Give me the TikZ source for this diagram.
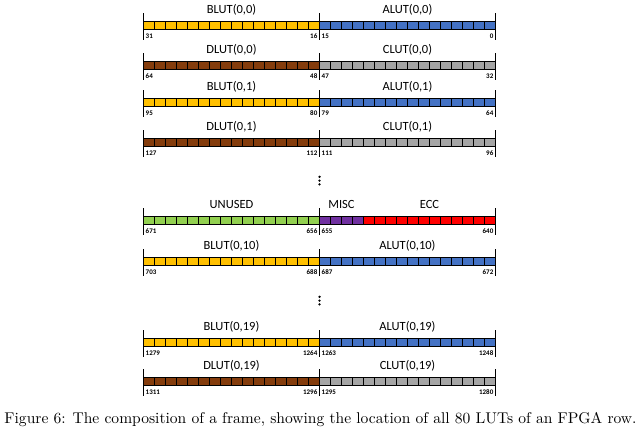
\documentclass[tikz,border=0pt]{standalone}
\usepackage{fontspec}
\setsansfont{Carlito}
\usepackage{graphicx}
\definecolor{cyel}{HTML}{FFC000}
\definecolor{cblu}{HTML}{4472C4}
\definecolor{cbrn}{HTML}{843C0C}
\definecolor{cgry}{HTML}{A5A5A5}
\definecolor{cgrn}{HTML}{92D050}
\definecolor{cpur}{HTML}{7030A0}
\definecolor{cred}{HTML}{FF0000}
\tikzset{
  cell/.style={draw=black,line width=0.7pt},
  tickline/.style={draw=black,line width=0.8pt},
  lab/.style={font=\sffamily\fontsize{12.5}{12.5}\selectfont,anchor=base,inner sep=0pt},
  num/.style={font=\sffamily\bfseries\fontsize{7}{7}\selectfont,inner sep=0pt},
  dot/.style={fill=black,circle,inner sep=0pt,minimum size=2.6pt},
}
\newcommand\lutcells[4]{% y, xstart, count, colour
  \foreach \i in {1,...,#3} \draw[cell,fill=#4] ({#2+(\i-1)*11},#1) rectangle ++(11,8.5);}
\newcommand\lutticks[1]{%
  \foreach \xx in {143.5,319.5,495.5} \draw[tickline] (\xx,#1-8) -- (\xx,#1+18.5);}
\newcommand\lutnums[5]{% y, n1..n4
  \node[num,anchor=base west] (na#1) at (145.5,#1+17.5) {#2};
  \node[num,anchor=base east] (nb#1) at (317.5,#1+17.5) {#3};
  \node[num,anchor=base west] (nc#1) at (321.5,#1+17.5) {#4};
  \node[num,anchor=base east] (nd#1) at (493.5,#1+17.5) {#5};}
\newcommand\lutrow[9]{% y, lcol, rcol, llab, rlab, n1..n4
  \lutcells{#1}{143.5}{16}{#2}
  \lutcells{#1}{319.5}{16}{#3}
  \lutticks{#1}
  \node[lab] (la#1) at (231.5,#1-8) {#4};
  \node[lab] (lb#1) at (407.5,#1-8) {#5};
  \lutnums{#1}{#6}{#7}{#8}{#9}}
\begin{document}
\begin{tikzpicture}[x=1pt,y=-1pt]
\fill[white] (0,0) rectangle (641,439);
\useasboundingbox (0,0) rectangle (641,439);
\lutrow{21}{cyel}{cblu}{BLUT(0,0)}{ALUT(0,0)}{31}{16}{15}{0}
\lutrow{61}{cbrn}{cgry}{DLUT(0,0)}{CLUT(0,0)}{64}{48}{47}{32}
\lutrow{98}{cyel}{cblu}{BLUT(0,1)}{ALUT(0,1)}{95}{80}{79}{64}
\lutrow{138}{cbrn}{cgry}{DLUT(0,1)}{CLUT(0,1)}{127}{112}{111}{96}
\node[dot] (d1a) at (319.5,176.8) {};
\node[dot] (d1b) at (319.5,180.6) {};
\node[dot] (d1c) at (319.5,184.4) {};
% unused / misc / ecc row
\lutcells{216}{143.5}{16}{cgrn}
\lutcells{216}{319.5}{4}{cpur}
\lutcells{216}{363.5}{12}{cred}
\lutticks{216}
\node[lab] (lu) at (231.5,208) {UNUSED};
\node[lab] (lm) at (341.5,208) {MISC};
\node[lab] (le) at (429.5,208) {ECC};
\lutnums{216}{671}{656}{655}{640}
\lutrow{257}{cyel}{cblu}{BLUT(0,10)}{ALUT(0,10)}{703}{688}{687}{672}
\node[dot] (d2a) at (319.5,296.8) {};
\node[dot] (d2b) at (319.5,300.6) {};
\node[dot] (d2c) at (319.5,304.4) {};
\lutrow{338}{cyel}{cblu}{BLUT(0,19)}{ALUT(0,19)}{1279}{1264}{1263}{1248}
\lutrow{377}{cbrn}{cgry}{DLUT(0,19)}{CLUT(0,19)}{1311}{1296}{1295}{1280}
\node[anchor=base,inner sep=0pt] (cap) at (320.5,423) {\resizebox{632pt}{!}{Figure 6: The composition of a frame, showing the location of all 80 LUTs of an FPGA row.}};
\end{tikzpicture}
\end{document}
